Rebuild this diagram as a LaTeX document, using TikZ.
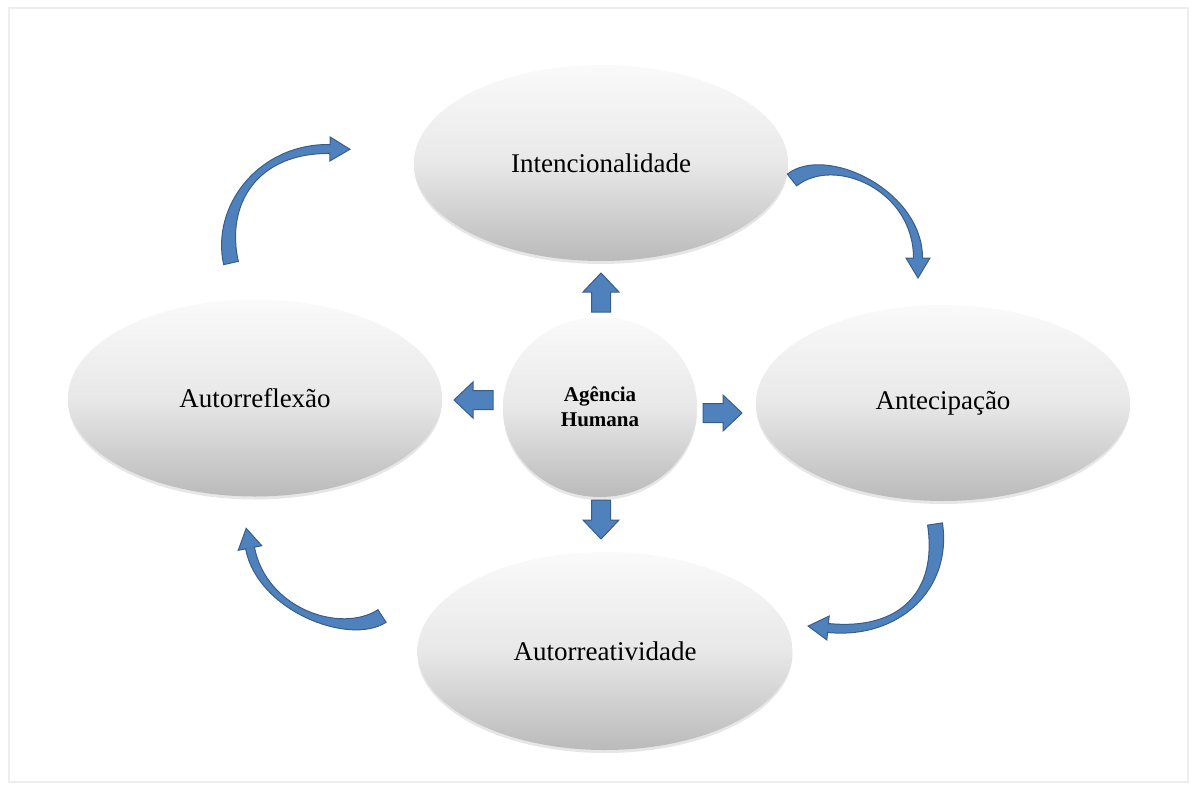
\documentclass[tikz,border=0pt]{standalone}
\usepackage{fontspec}
\setmainfont{Liberation Serif}
\usetikzlibrary{calc,shapes.geometric,shadows}

\definecolor{arrowfill}{RGB}{79,129,189}
\definecolor{arrowedge}{RGB}{56,93,138}
\definecolor{framegray}{RGB}{238,238,238}

\tikzset{
  bubble/.style={ellipse, inner sep=0pt,
    top color=black!2, bottom color=black!27, middle color=black!9,
    drop shadow={shadow xshift=0pt, shadow yshift=-3pt, opacity=.2},
    font=\fontsize{27}{32}\selectfont},
  hub/.style={bubble, font=\bfseries\fontsize{21}{25}\selectfont, align=center},
  shapeline/.style={fill=arrowfill, draw=arrowedge, line width=1pt, line join=miter},
  blockarrow/.pic={
    \draw[shapeline]
      (-20,-9.5) -- (0,-9.5) -- (0,-18) -- (19,0) -- (0,18) -- (0,9.5) -- (-20,9.5) -- cycle;
  }
}

% tapered curved block arrow: centre line from #1 via #2,#3 to #4,
% 15 wide at the tail, 9 wide at the head, head beyond #4
\newcommand{\curvedarrow}[4]{%
  \draw[shapeline]
    ($(#1)!7.5pt!90:(#2)$) .. controls ($(#2)!7.5pt!-90:(#1)$) and ($(#3)!4.5pt!90:(#4)$) ..
    ($(#4)!4.5pt!-90:(#3)$) -- ($(#4)!4.5pt!90:(#3)$)
    .. controls ($(#3)!4.5pt!-90:(#4)$) and ($(#2)!7.5pt!90:(#1)$) .. ($(#1)!7.5pt!-90:(#2)$) -- cycle;
  \draw[shapeline] ($(#4)!12pt!90:(#3)$) -- ($(#4)!20pt!180:(#3)$) -- ($(#4)!12pt!-90:(#3)$) -- cycle;
  \draw[arrowfill, line width=1.6pt] ($(#4)!3.6pt!90:(#3)$) -- ($(#4)!3.6pt!-90:(#3)$);
}

\begin{document}
\begin{tikzpicture}[x=1pt,y=-1pt]
  \useasboundingbox (0,0) rectangle (1193,784);
  \draw[framegray, line width=2.5pt] (9,8) rectangle (1188,782);

  % the five ellipses
  \node[bubble, minimum width=374pt, minimum height=196pt] (int) at (601,163) {Intencionalidade};
  \node[bubble, minimum width=374pt, minimum height=197pt] (ref) at (255,398) {Autorreflexão};
  \node[bubble, minimum width=374pt, minimum height=196pt] (ant) at (943,403) {Antecipação};
  \node[bubble, minimum width=375pt, minimum height=198pt] (rea) at (605,651) {Autorreatividade};
  \node[hub, minimum width=194pt, minimum height=180pt] (hum) at (600,407) {Agência\\Humana};

  % straight arrows out of the hub
  \pic[rotate=90]  at (601,292) {blockarrow};
  \pic[rotate=180] at (473,400) {blockarrow};
  \pic             at (723,413) {blockarrow};
  \pic[rotate=-90] at (601,520) {blockarrow};

  % cycle of curved arrows
  \coordinate (a0) at (231,263); \coordinate (a1) at (218,205);
  \coordinate (a2) at (258,148); \coordinate (a3) at (330,149);
  \curvedarrow{a0}{a1}{a2}{a3}

  \coordinate (b0) at (792,180); \coordinate (b1) at (830,150);
  \coordinate (b2) at (918,190); \coordinate (b3) at (918,258);
  \curvedarrow{b0}{b1}{b2}{b3}

  \coordinate (c0) at (935,524); \coordinate (c1) at (945,590);
  \coordinate (c2) at (900,635); \coordinate (c3) at (828,628);
  \curvedarrow{c0}{c1}{c2}{c3}

  \coordinate (d0) at (382,616); \coordinate (d1) at (345,640);
  \coordinate (d2) at (262,610); \coordinate (d3) at (250,548);
  \curvedarrow{d0}{d1}{d2}{d3}
\end{tikzpicture}
\end{document}
